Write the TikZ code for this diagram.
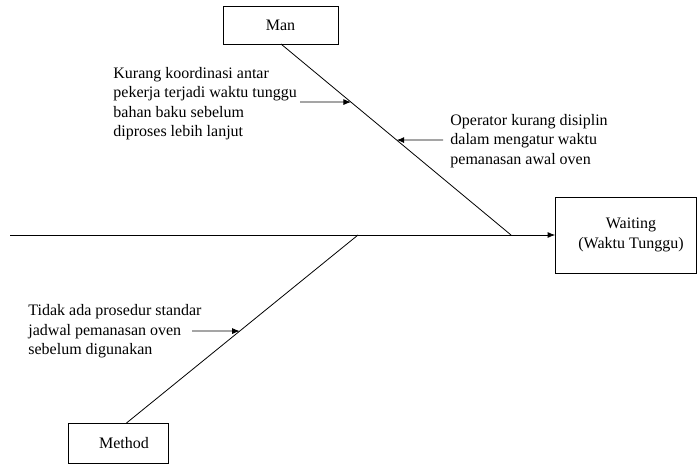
\documentclass[tikz,border=0pt]{standalone}
\usepackage{fontspec}
\setmainfont{Liberation Serif}
\usetikzlibrary{arrows.meta,calc}
\begin{document}
\begin{tikzpicture}[x=1pt,y=-1pt,
  line width=0.8pt,
  box/.style={draw, rectangle, inner sep=0pt, font=\fontsize{16}{19.5}\selectfont, align=center},
  cause/.style={anchor=west, inner sep=0pt, align=left, font=\fontsize{16}{19.5}\selectfont},
  bone/.style={draw},
  pointer/.style={-{Latex[length=7.5pt,width=6pt]}}]
  \useasboundingbox (0,0) rectangle (698,465);

  % effect and category boxes
  \node[box, minimum width=115pt, minimum height=38pt] (man) at (280.5,25) {Man};
  \node[box, minimum width=141pt, minimum height=76pt] (waiting) at (626,235) {\hspace*{10pt}Waiting\\\hspace*{10pt}(Waktu Tunggu)};
  \node[box, minimum width=100pt, minimum height=40pt] (method) at (118,443) {\hspace*{12pt}Method};

  % spine
  \coordinate (tail) at (10,235);
  \draw[pointer] (tail) -- (waiting.west);

  % category bones
  \coordinate (mantop) at (281,44);
  \coordinate (manend) at (511,235);
  \coordinate (methtop) at (126.5,423);
  \coordinate (methend) at (358,235);
  \draw[bone] (mantop) -- (manend);
  \draw[bone] (methtop) -- (methend);

  % causes
  \node[cause] (c1) at (113,103.5) {Kurang koordinasi antar\\pekerja terjadi waktu tunggu\\bahan baku sebelum\\diproses lebih lanjut};
  \node[cause] (c2) at (450,141) {Operator kurang disiplin\\dalam mengatur waktu\\pemanasan awal oven};
  \node[cause] (c3) at (28,331.5) {Tidak ada prosedur standar\\jadwal pemanasan oven\\sebelum digunakan};

  \coordinate (a1) at (300,102);
  \coordinate (a2) at (443,140);
  \coordinate (a3) at (192,331);
  \draw[pointer] (a1) -- ($(mantop)!0.304!(manend)$);
  \draw[pointer] (a2) -- ($(mantop)!0.503!(manend)$);
  \draw[pointer] (a3) -- ($(methtop)!0.489!(methend)$);
\end{tikzpicture}
\end{document}
